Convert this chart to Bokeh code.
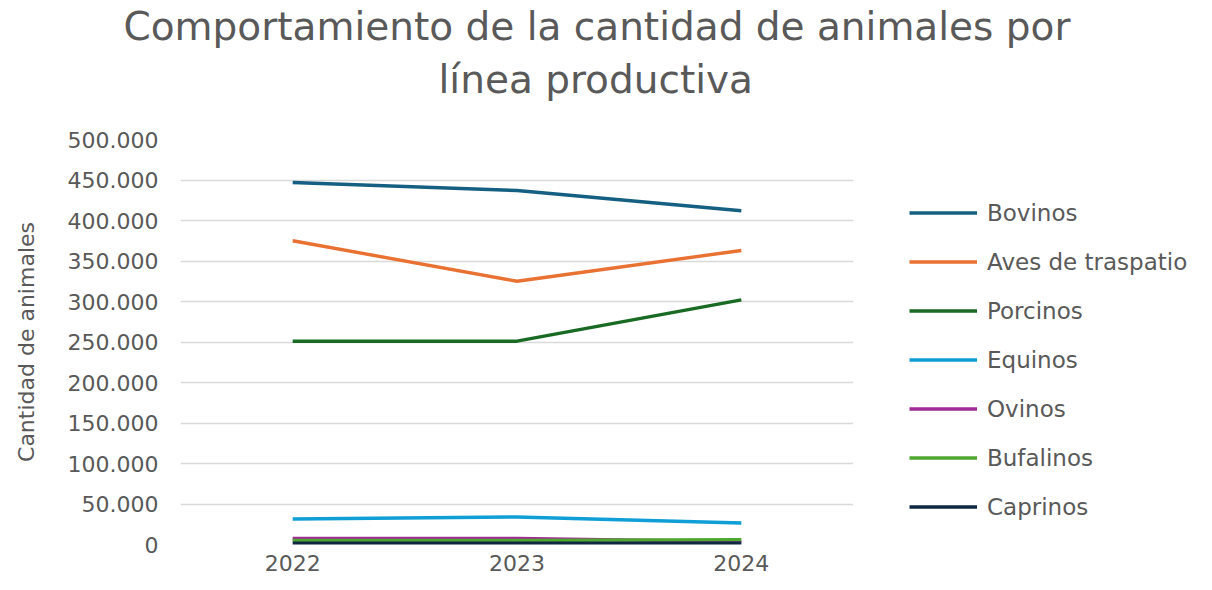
from bokeh.plotting import figure
from bokeh.models import FactorRange, Range1d, FixedTicker, Legend, LegendItem, Title
from bokeh.embed import file_html
from bokeh.resources import INLINE

years = ["2022", "2023", "2024"]
series_names = ["Bovinos", "Aves de traspatio", "Porcinos", "Equinos", "Ovinos", "Bufalinos", "Caprinos"]
bovinos = [447000, 437000, 412000]
aves = [375000, 325000, 363000]
porcinos = [251000, 251000, 302000]
equinos = [31500, 34000, 26500]
ovinos = [7500, 7500, 3500]
bufalinos = [5000, 5000, 6000]
caprinos = [1500, 1500, 1500]
colors = ["#156082", "#E97132", "#196B24", "#0F9ED5", "#A02B93", "#4EA72E", "#0E2841"]
y_ticks = [0, 50000, 100000, 150000, 200000, 250000, 300000, 350000, 400000, 450000, 500000]
y_tick_labels = ["0", "50.000", "100.000", "150.000", "200.000", "250.000", "300.000",
                 "350.000", "400.000", "450.000", "500.000"]
title_lines = ["Comportamiento de la cantidad de animales por", "línea productiva"]

all_series = [bovinos, aves, porcinos, equinos, ovinos, bufalinos, caprinos]

FONT = "DejaVu Sans"
GRAY = "#595959"

p = figure(frame_width=673, frame_height=405, x_range=FactorRange(*years, range_padding=0),
           y_range=Range1d(0, 500000), output_backend="svg", toolbar_location=None,
           min_border_left=180, min_border_right=0, min_border_top=0, min_border_bottom=37)
p.outline_line_color = None

# spacer closest to the frame, then second line, then first line
spacer = Title(text=" ", text_font=FONT, text_font_size="2px", text_color=GRAY, standoff=25)
t2 = Title(text=title_lines[1], align="left", offset=258, vertical_align="top", text_font=FONT,
           text_font_size="39px", text_color=GRAY, text_font_style="normal", standoff=14)
t1 = Title(text=title_lines[0], align="left", offset=-57, vertical_align="bottom", text_font=FONT,
           text_font_size="39px", text_color=GRAY, text_font_style="normal", standoff=2)
p.add_layout(spacer, "above")
p.add_layout(t2, "above")
p.add_layout(t1, "above")

items = []
for name, vals, c in zip(series_names, all_series, colors):
    r = p.line(years, vals, line_color=c, line_width=3.4)
    items.append(LegendItem(label=name, renderers=[r]))

legend = Legend(items=items, location=(56, 24), border_line_color=None,
                label_text_font=FONT, label_text_font_size="23px", label_text_color=GRAY,
                glyph_width=68, glyph_height=27, label_height=27, spacing=22,
                padding=0, margin=0, label_standoff=10, background_fill_alpha=0)
p.add_layout(legend, "right")

p.yaxis.ticker = FixedTicker(ticks=y_ticks)
p.yaxis.major_label_overrides = {tk: lb for tk, lb in zip(y_ticks, y_tick_labels)}
for ax in (p.xaxis[0], p.yaxis[0]):
    ax.axis_line_color = None
    ax.major_tick_line_color = None
    ax.minor_tick_line_color = None
    ax.major_tick_out = 0
    ax.major_tick_in = 0
    ax.major_label_text_font = FONT
    ax.major_label_text_font_size = "22px"
    ax.major_label_text_color = GRAY
p.yaxis.major_label_standoff = 22
p.xaxis.major_label_standoff = 10
p.yaxis.axis_label = "Cantidad de animales"
p.yaxis.axis_label_text_font = FONT
p.yaxis.axis_label_text_font_size = "22px"
p.yaxis.axis_label_text_font_style = "normal"
p.yaxis.axis_label_text_color = GRAY
p.yaxis.axis_label_standoff = 26

p.xgrid.grid_line_color = None
p.ygrid.grid_line_color = "#D9D9D9"
p.ygrid.grid_line_width = 1.5
p.ygrid.ticker = FixedTicker(ticks=y_ticks)

open("out.html", "w").write(file_html(p, INLINE))
